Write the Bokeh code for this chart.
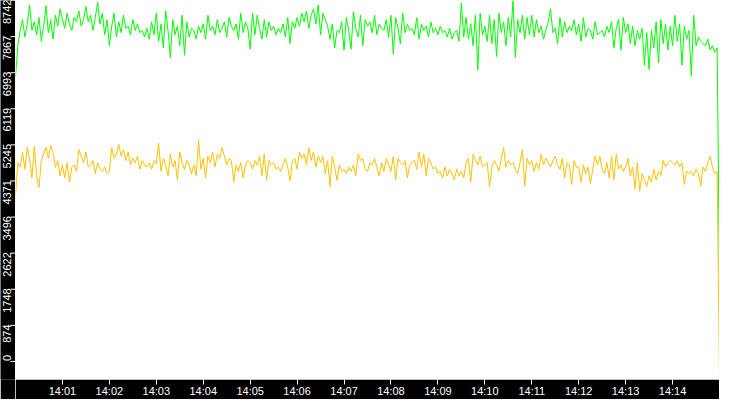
from math import pi
from bokeh.plotting import figure
from bokeh.layouts import row
from bokeh.models import FixedTicker, Range1d
from bokeh.core.properties import value
from bokeh.embed import file_html
from bokeh.resources import INLINE

# ---- data (one sample every 3 s from 14:00:00) ----
sample_seconds = 3

green_values = [
    6990, 7700, 8050, 8300, 7900, 8200, 8640, 8050, 8250, 7950, 8350, 7800, 8150, 8620, 8000, 8300, 7850, 8400, 8150, 8550,
    8300, 8100, 8450, 8200, 8050, 8350, 8250, 8500, 8150, 8300, 8600, 8250, 8400, 8050, 8350, 8700, 8200, 8450, 7950, 8300,
    7700, 8150, 8450, 7900, 8250, 8000, 8400, 8100, 8150, 7950, 8300, 8050, 8200, 8000, 8050, 7900, 8100, 7850, 8250, 7950,
    8450, 7800, 8200, 7650, 8500, 8050, 7420, 8300, 7950, 8150, 7700, 8400, 7480, 8250, 7900, 8100, 8050, 7850, 8150, 8000,
    8200, 7850, 8400, 8050, 8150, 7950, 8300, 8000, 8100, 8250, 7900, 8350, 8150, 8050, 8200, 7850, 8450, 8000, 8250, 8100,
    7620, 8450, 7950, 8400, 8100, 7850, 8300, 7900, 8250, 8050, 8150, 7950, 8100, 8000, 8200, 7900, 8350, 7750, 8250, 8100,
    8350, 8150, 8450, 8250, 8500, 8100, 8400, 8550, 8200, 8640, 7950, 8450, 8300, 8150, 7850, 8200, 7650, 8050, 8000, 8250,
    7600, 8350, 8050, 7620, 8480, 8100, 7900, 8400, 7700, 8300, 8150, 8250, 8000, 8400, 7950, 8200, 8100, 8050, 8300, 7900,
    8400, 7500, 8350, 8100, 7750, 8450, 8000, 8200, 8050, 8100, 7950, 8350, 7850, 8200, 8050, 8150, 7900, 8250, 8000, 8100,
    7950, 8150, 8000, 8050, 7900, 8100, 7850, 8000, 8050, 7800, 8680, 7900, 8350, 7850, 8200, 7700, 8400, 7140, 8450, 7950,
    8150, 7800, 8400, 7750, 8300, 7450, 8450, 8000, 8250, 7700, 8350, 7900, 8740, 7430, 8300, 8000, 8400, 7850, 8350, 7950,
    8400, 7900, 8300, 8000, 8150, 7850, 8050, 8250, 8550, 8000, 8100, 7750, 8350, 7900, 8250, 8000, 8150, 8050, 8300, 7950,
    8200, 7800, 8350, 7900, 8100, 8050, 7850, 8250, 7950, 8000, 8050, 7900, 8150, 8000, 8250, 7650, 8100, 8300, 7600, 8350,
    8000, 8200, 7750, 8150, 7700, 8050, 7850, 8100, 7250, 8000, 7150, 8050, 7650, 8250, 7300, 8300, 7750, 8200, 7600, 8150,
    7700, 8400, 7800, 8200, 7250, 8150, 7850, 8050, 6990, 8400, 7700, 7900, 7800, 7750, 7700, 7850, 7600, 7700, 7550, 7650,
    2380,
]

orange_values = [
    4250, 5000, 4900, 5250, 4850, 5350, 5100, 4650, 5380, 4700, 4430, 5050, 5200, 5350, 5100, 5400, 5250, 4900, 5050, 4700,
    4950, 4650, 5000, 4550, 4900, 4950, 4800, 5300, 5150, 5000, 5250, 4900, 4950, 5050, 4750, 5000, 4850, 4800, 4900, 4750,
    4800, 5350, 5100, 5200, 5420, 5150, 5300, 5050, 5250, 4950, 5100, 5000, 5150, 4850, 5050, 4950, 4900, 5000, 4850, 5050,
    4980, 5450, 4800, 5100, 4950, 4700, 5200, 4900, 5050, 4600, 5250, 5000, 4850, 5050, 4950, 4750, 4950, 4700, 5520, 4850,
    5100, 4650, 5150, 5000, 5250, 4900, 5200, 5100, 5350, 5150, 4950, 5100, 5050, 4550, 4950, 4800, 5000, 4650, 4950, 5050,
    5000, 4850, 5050, 4950, 5150, 4700, 5200, 4600, 5050, 4950, 5000, 4850, 4900, 4800, 4950, 5100, 4900, 4580, 5050, 5100,
    4850, 5250, 5100, 5200, 4950, 5350, 5050, 5250, 4900, 5150, 5000, 5150, 4750, 5050, 4450, 5150, 4900, 4600, 4950, 4800,
    4850, 4750, 4900, 4800, 4950, 4700, 5200, 5050, 5100, 4850, 4800, 5000, 4950, 5100, 4900, 4700, 5000, 4800, 5100, 4950,
    4800, 5150, 4600, 5100, 5000, 4950, 5050, 4650, 4950, 5000, 5050, 4850, 5250, 4900, 5200, 4700, 5100, 5000, 4850, 4900,
    4750, 4800, 4650, 4900, 4700, 4850, 4750, 4600, 4850, 4700, 4800, 4650, 5000, 5100, 4550, 5200, 5050, 4950, 5150, 4900,
    4950, 5000, 4450, 4900, 5050, 4950, 4800, 5100, 5350, 4900, 5050, 4950, 5000, 4850, 4750, 5000, 5300, 4460, 5100, 4950,
    5050, 4800, 5000, 4850, 5200, 4950, 5100, 5000, 4900, 5050, 5150, 4950, 4850, 5100, 4650, 5000, 4950, 4500, 5050, 4900,
    4900, 4550, 4950, 4750, 4900, 4520, 4850, 5150, 4950, 5150, 4850, 4750, 5000, 4650, 5150, 4600, 5200, 4850, 4950, 4800,
    4900, 5100, 4700, 4900, 4400, 5000, 4350, 4750, 4600, 4450, 4700, 4550, 4850, 4600, 4800, 4700, 5050, 4900, 5000, 5050,
    5000, 4950, 5050, 4900, 5000, 4500, 4800, 4750, 4800, 4700, 4850, 4750, 4460, 4900, 4800, 5000, 5150, 4900, 4750, 4800,
    0,
]

y_tick_values = [0, 874.2, 1748.4, 2622.6, 3496.8, 4371.0, 5245.2, 6119.4, 6993.6, 7867.8, 8742.0]
y_tick_labels = ["0", "874", "1748", "2622", "3496", "4371", "5245", "6119", "6993", "7867", "8742"]

x_tick_minutes = [1, 2, 3, 4, 5, 6, 7, 8, 9, 10, 11, 12, 13, 14]
x_tick_labels = ["14:01", "14:02", "14:03", "14:04", "14:05", "14:06", "14:07",
                 "14:08", "14:09", "14:10", "14:11", "14:12", "14:13", "14:14"]

x_start_minute = 0
x_end_minute = 15
y_max = 8742

# ---- layout constants ----
FONT = "Liberation Sans"
TOTAL_W, TOTAL_H = 719, 399
LEFT_W = 15
BOTTOM_H = 19
FRAME_H = TOTAL_H - BOTTOM_H
units_per_px = y_max / FRAME_H

n = min(len(green_values), len(orange_values))
minutes = [i * sample_seconds / 60.0 for i in range(n)]

# ---- main plot ----
p = figure(
    width=TOTAL_W - LEFT_W, height=TOTAL_H,
    x_range=Range1d(x_start_minute, x_end_minute),
    y_range=Range1d(0, y_max),
    output_backend="svg", toolbar_location=None,
    min_border_left=0, min_border_right=0, min_border_top=0, min_border_bottom=BOTTOM_H,
    background_fill_color="white", border_fill_color="black",
    outline_line_color=None,
)
p.xgrid.visible = False
p.ygrid.visible = False
p.yaxis.visible = False

p.line(minutes, orange_values[:n], line_color="#ffc000", line_width=1)
p.line(minutes, green_values[:n], line_color="#00ff00", line_width=1)

xa = p.xaxis[0]
xa.ticker = FixedTicker(ticks=x_tick_minutes)
xa.major_label_overrides = {m: lab for m, lab in zip(x_tick_minutes, x_tick_labels)}
xa.major_tick_out = 5
xa.major_tick_in = 0
xa.major_tick_line_color = "white"
xa.minor_tick_line_color = None
xa.axis_line_color = None
xa.major_label_standoff = 0
xa.major_label_text_color = "white"
xa.major_label_text_font = FONT
xa.major_label_text_font_size = "11px"

# ---- left axis band (same vertical scale, extended down over the bottom band) ----
left = figure(
    width=LEFT_W, height=TOTAL_H,
    x_range=Range1d(0, LEFT_W),
    y_range=Range1d(-BOTTOM_H * units_per_px, y_max),
    output_backend="svg", toolbar_location=None,
    min_border_left=0, min_border_right=0, min_border_top=0, min_border_bottom=0,
    background_fill_color="black", border_fill_color="black",
    outline_line_color=None,
)
left.xaxis.visible = False
left.yaxis.visible = False
left.xgrid.visible = False
left.ygrid.visible = False

left.segment(x0=[10] * len(y_tick_values), y0=y_tick_values,
             x1=[LEFT_W] * len(y_tick_values), y1=y_tick_values,
             line_color="white", line_width=1)
# labels end just above their tick; the lowest one is kept inside the plot height
label_anchor = [max(v + units_per_px, 7 * units_per_px) for v in y_tick_values]
left.text(x=[6] * len(y_tick_values), y=label_anchor, text=y_tick_labels,
          angle=pi / 2, text_align="right", text_baseline="middle",
          text_color="white", text_font=value(FONT), text_font_size="11px")

layout = row(left, p, spacing=0)

open("out.html", "w").write(file_html(layout, INLINE))
